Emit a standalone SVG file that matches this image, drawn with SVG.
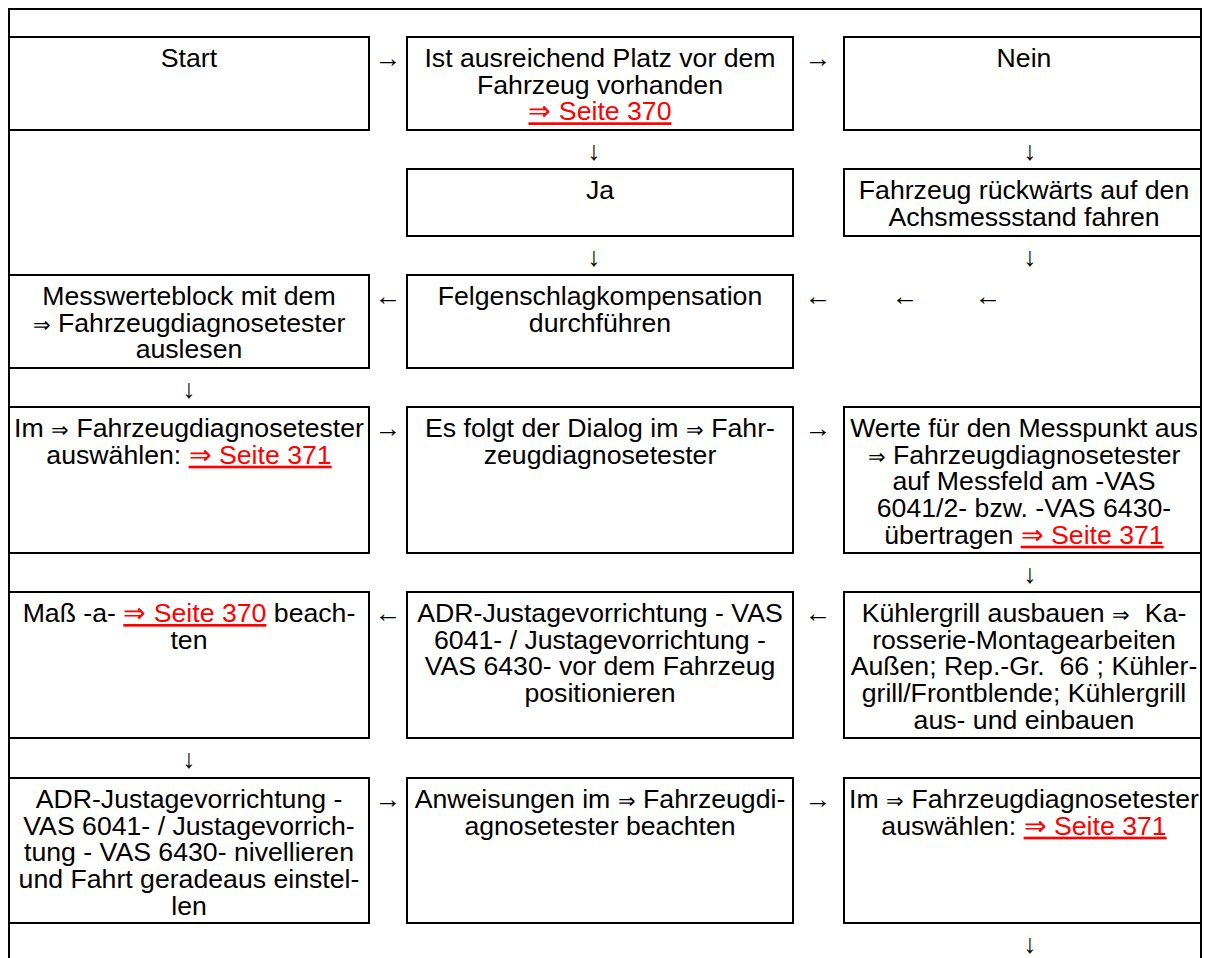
<svg xmlns="http://www.w3.org/2000/svg" width="1205" height="958" viewBox="0 0 1205 958">
  <style>
    text { font-family: "Liberation Sans", Arial, sans-serif; font-size: 26.67px; fill: #000; }
    .c { text-anchor: middle; }
    .box { fill: none; stroke: #000; stroke-width: 2; }
    .frame { fill: none; stroke: #000; stroke-width: 2; }
    .link { fill: #ff0000; text-decoration: underline; }
    .sym { font-size: 21px; }
    .arr { text-anchor: middle; }
  </style>
  <rect x="0" y="0" width="1205" height="958" fill="#fff"/>
  <path class="frame" d="M9,960 V9 H1201 V960"/>

  <!-- Row 1 -->
  <g id="start">
    <rect class="box" x="9" y="37" width="360" height="93"/>
    <text class="c" x="189" y="67">Start</text>
  </g>
  <g id="platz">
    <rect class="box" x="407" y="37" width="386" height="93"/>
    <text class="c" x="600" y="67">Ist ausreichend Platz vor dem</text>
    <text class="c" x="600" y="93.7">Fahrzeug vorhanden</text>
    <text class="c" x="600" y="120.3"><tspan class="link">⇒ Seite 370</tspan></text>
  </g>
  <g id="nein">
    <rect class="box" x="844" y="37" width="357" height="93"/>
    <text class="c" x="1024" y="67">Nein</text>
  </g>

  <!-- Row 2 -->
  <g id="ja">
    <rect class="box" x="407" y="169" width="386" height="67"/>
    <text class="c" x="600" y="199">Ja</text>
  </g>
  <g id="rueckwaerts">
    <rect class="box" x="844" y="169" width="357" height="67"/>
    <text class="c" x="1024" y="199">Fahrzeug rückwärts auf den</text>
    <text class="c" x="1024" y="225.7">Achsmessstand fahren</text>
  </g>

  <!-- Row 3 -->
  <g id="messwerteblock">
    <rect class="box" x="9" y="275" width="360" height="93"/>
    <text class="c" x="189" y="305">Messwerteblock mit dem</text>
    <text class="c" x="189" y="331.7"><tspan class="sym">⇒</tspan> Fahrzeugdiagnosetester</text>
    <text class="c" x="189" y="358.3">auslesen</text>
  </g>
  <g id="felgenschlag">
    <rect class="box" x="407" y="275" width="386" height="93"/>
    <text class="c" x="600" y="305">Felgenschlagkompensation</text>
    <text class="c" x="600" y="331.7">durchführen</text>
  </g>

  <!-- Row 4 -->
  <g id="auswaehlen1">
    <rect class="box" x="9" y="407" width="360" height="146"/>
    <text class="c" x="189" y="437">Im <tspan class="sym">⇒</tspan> Fahrzeugdiagnosetester</text>
    <text class="c" x="189" y="463.7">auswählen: <tspan class="link">⇒ Seite 371</tspan></text>
  </g>
  <g id="dialog">
    <rect class="box" x="407" y="407" width="386" height="146"/>
    <text class="c" x="600" y="437">Es folgt der Dialog im <tspan class="sym">⇒</tspan> Fahr-</text>
    <text class="c" x="600" y="463.7">zeugdiagnosetester</text>
  </g>
  <g id="werte">
    <rect class="box" x="844" y="407" width="357" height="146"/>
    <text class="c" x="1024" y="437">Werte für den Messpunkt aus</text>
    <text class="c" x="1024" y="463.7"><tspan class="sym">⇒</tspan> Fahrzeugdiagnosetester</text>
    <text class="c" x="1024" y="490.3">auf Messfeld am -VAS</text>
    <text class="c" x="1024" y="517">6041/2- bzw. -VAS 6430-</text>
    <text class="c" x="1024" y="543.7">übertragen <tspan class="link">⇒ Seite 371</tspan></text>
  </g>

  <!-- Row 5 -->
  <g id="mass-a">
    <rect class="box" x="9" y="592" width="360" height="146"/>
    <text class="c" x="189" y="622">Maß -a- <tspan class="link">⇒ Seite 370</tspan> beach-</text>
    <text class="c" x="189" y="648.7">ten</text>
  </g>
  <g id="positionieren">
    <rect class="box" x="407" y="592" width="386" height="146"/>
    <text class="c" x="600" y="622">ADR-Justagevorrichtung - VAS</text>
    <text class="c" x="600" y="648.7">6041- / Justagevorrichtung -</text>
    <text class="c" x="600" y="675.3">VAS 6430- vor dem Fahrzeug</text>
    <text class="c" x="600" y="702">positionieren</text>
  </g>
  <g id="kuehlergrill">
    <rect class="box" x="844" y="592" width="357" height="146"/>
    <text class="c" x="1024" y="622">Kühlergrill ausbauen <tspan class="sym">⇒</tspan>&#160; Ka-</text>
    <text class="c" x="1024" y="648.7">rosserie-Montagearbeiten</text>
    <text class="c" x="1024" y="675.3">Außen; Rep.-Gr.&#160; 66 ; Kühler-</text>
    <text class="c" x="1024" y="702">grill/Frontblende; Kühlergrill</text>
    <text class="c" x="1024" y="728.7">aus- und einbauen</text>
  </g>

  <!-- Row 6 -->
  <g id="nivellieren">
    <rect class="box" x="9" y="778" width="360" height="145"/>
    <text class="c" x="189" y="808">ADR-Justagevorrichtung -</text>
    <text class="c" x="189" y="834.7">VAS 6041- / Justagevorrich-</text>
    <text class="c" x="189" y="861.3">tung - VAS 6430- nivellieren</text>
    <text class="c" x="189" y="888">und Fahrt geradeaus einstel-</text>
    <text class="c" x="189" y="914.7">len</text>
  </g>
  <g id="anweisungen">
    <rect class="box" x="407" y="778" width="386" height="145"/>
    <text class="c" x="600" y="808">Anweisungen im <tspan class="sym">⇒</tspan> Fahrzeugdi-</text>
    <text class="c" x="600" y="834.7">agnosetester beachten</text>
  </g>
  <g id="auswaehlen2">
    <rect class="box" x="844" y="778" width="357" height="145"/>
    <text class="c" x="1024" y="808">Im <tspan class="sym">⇒</tspan> Fahrzeugdiagnosetester</text>
    <text class="c" x="1024" y="834.7">auswählen: <tspan class="link">⇒ Seite 371</tspan></text>
  </g>

  <!-- Connectors (arrow characters) -->
  <g id="connectors">
    <text class="arr" x="388" y="67">→</text>
    <text class="arr" x="818" y="67">→</text>
    <text class="arr" x="594" y="160">↓</text>
    <text class="arr" x="1030" y="160">↓</text>
    <text class="arr" x="594" y="266">↓</text>
    <text class="arr" x="1030" y="266">↓</text>
    <text class="arr" x="388" y="305">←</text>
    <text class="arr" x="818" y="305">←</text>
    <text class="arr" x="905" y="305">←</text>
    <text class="arr" x="988" y="305">←</text>
    <text class="arr" x="189" y="398">↓</text>
    <text class="arr" x="388" y="437">→</text>
    <text class="arr" x="818" y="437">→</text>
    <text class="arr" x="1030" y="583">↓</text>
    <text class="arr" x="388" y="622">←</text>
    <text class="arr" x="818" y="622">←</text>
    <text class="arr" x="189" y="768">↓</text>
    <text class="arr" x="388" y="808">→</text>
    <text class="arr" x="818" y="808">→</text>
    <text class="arr" x="1030" y="953">↓</text>
  </g>
</svg>
